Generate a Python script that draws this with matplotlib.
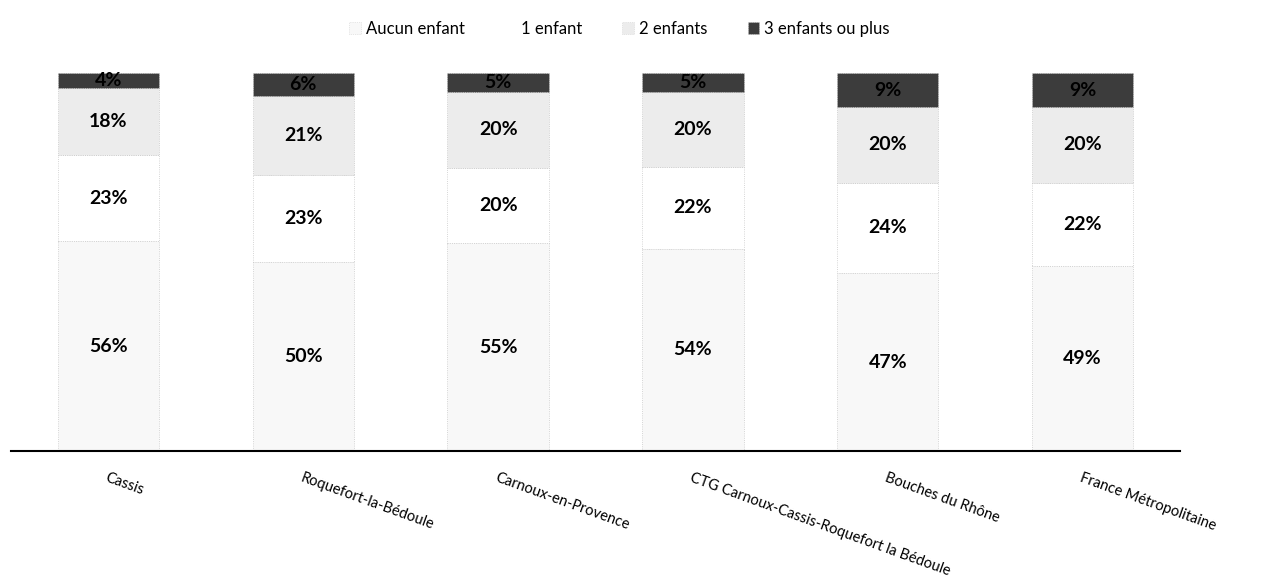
import matplotlib
matplotlib.use("Agg")
import matplotlib.pyplot as plt
from matplotlib.patches import Patch
import numpy as np

categories = ["Cassis", "Roquefort-la-Bédoule", "Carnoux-en-Provence",
              "CTG Carnoux-Cassis-Roquefort la Bédoule", "Bouches du Rhône",
              "France Métropolitaine"]
aucun = [56, 50, 55, 54, 47, 49]
un = [23, 23, 20, 22, 24, 22]
deux = [18, 21, 20, 20, 20, 20]
trois = [4, 6, 5, 5, 9, 9]

series = [("Aucun enfant", aucun, "#f8f8f8"),
          ("1 enfant", un, "#ffffff"),
          ("2 enfants", deux, "#ececec"),
          ("3 enfants ou plus", trois, "#3c3c3c")]

plt.rcParams["font.family"] = ["Lato", "DejaVu Sans"]

fig = plt.figure(figsize=(12.64, 5.87), dpi=100)
ax = fig.add_axes([11 / 1264, 136 / 587, 1169 / 1264, 378 / 587])

x = np.arange(len(categories))
totals = np.sum([s[1] for s in series], axis=0)
bottom = np.zeros(len(categories))
for name, vals, col in series:
    h = np.array(vals) / totals
    ax.bar(x, h, 0.52, bottom=bottom, color=col, edgecolor="#c8c8c8",
           linewidth=0.6, linestyle=":")
    for xi, b, hh, v in zip(x, bottom, h, vals):
        ax.text(xi, b + hh / 2, f"{v}%", ha="center", va="center",
                fontsize=14, fontweight="bold", color="black")
    bottom += h

ax.set_xlim(-0.5, len(categories) - 0.5)
ax.set_ylim(0, 1)
for s in ["top", "right", "left"]:
    ax.spines[s].set_visible(False)
ax.spines["bottom"].set_linewidth(1.5)
ax.set_yticks([])
ax.set_xticks(x)
ax.set_xticklabels(categories, rotation=-20, ha="left", va="top",
                   rotation_mode="anchor", fontsize=10.5)
ax.tick_params(axis="x", length=0, pad=14)

handles = [Patch(facecolor=c, edgecolor="#d0d0d0" if c != "#ffffff" else "none",
                 linewidth=0.5, linestyle=":") for _, _, c in series]
fig.legend(handles, [s[0] for s in series], loc="upper center",
           bbox_to_anchor=(0.49, 0.99), ncol=4, frameon=False, fontsize=12,
           handlelength=0.7, handleheight=0.7, handletextpad=0.3,
           columnspacing=2.4)

fig.savefig("out.png", dpi=100)
